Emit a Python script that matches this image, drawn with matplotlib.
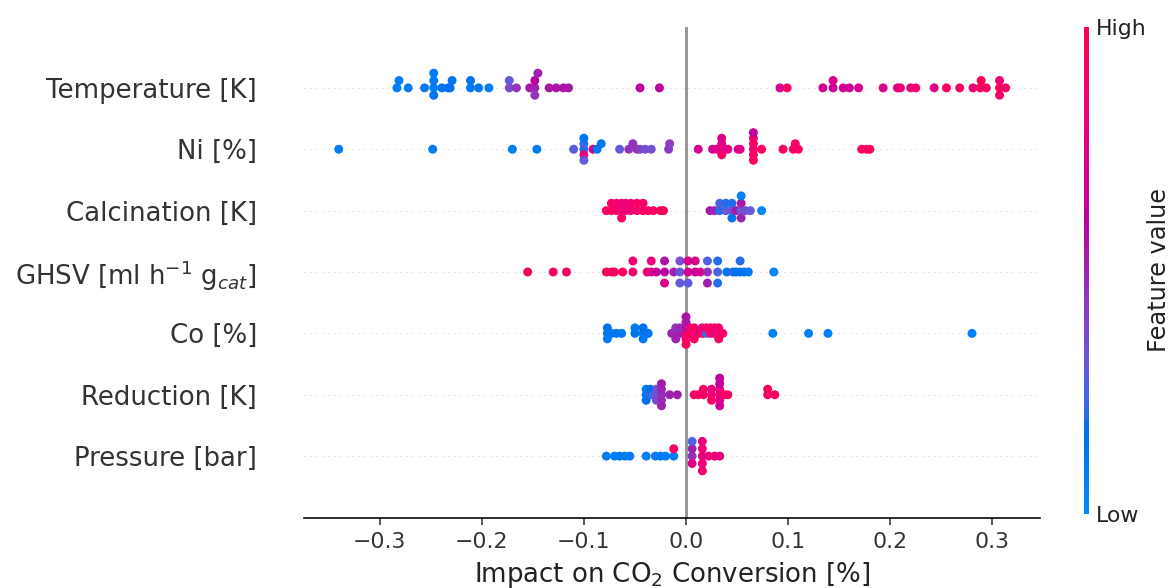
import numpy as np
import matplotlib
matplotlib.use("Agg")
import matplotlib.pyplot as plt
from matplotlib.colors import LinearSegmentedColormap

# ---------------- data ----------------
features = ["Temperature [K]", "Ni [%]", "Calcination [K]",
            r"GHSV [ml h$^{-1}$ g$_{cat}$]", "Co [%]", "Reduction [K]", "Pressure [bar]"]

temp_shap = [-0.283, -0.281, -0.272, -0.256, -0.247, -0.247, -0.247, -0.247, -0.239, -0.233,
             -0.231, -0.229, -0.211, -0.211, -0.203, -0.193, -0.173, -0.173, -0.166, -0.153,
             -0.148, -0.148, -0.148, -0.145, -0.134, -0.127, -0.120, -0.115, -0.045, -0.026,
             0.092, 0.099, 0.134, 0.144, 0.144, 0.154, 0.160, 0.169, 0.193, 0.207,
             0.210, 0.220, 0.225, 0.243, 0.255, 0.268, 0.281, 0.288, 0.289, 0.294,
             0.307, 0.307, 0.307, 0.313]
temp_val = [0.10, 0.08, 0.10, 0.12, 0.10, 0.12, 0.15, 0.10, 0.15, 0.15,
            0.18, 0.15, 0.12, 0.15, 0.12, 0.08, 0.38, 0.30, 0.45, 0.55,
            0.50, 0.60, 0.45, 0.50, 0.55, 0.55, 0.55, 0.55, 0.62, 0.62,
            0.72, 0.92, 0.70, 0.66, 0.72, 0.68, 0.65, 0.70, 0.72, 0.78,
            0.82, 0.85, 0.85, 0.75, 0.92, 0.92, 0.85, 0.95, 0.97, 0.90,
            0.95, 0.85, 0.90, 0.90]

ni_shap = [-0.340, -0.248, -0.170, -0.146, -0.110, -0.100, -0.100, -0.100, -0.100, -0.100,
           -0.091, -0.087, -0.083, -0.065, -0.056, -0.052, -0.048, -0.045, -0.040, -0.034,
           -0.017, -0.016, 0.012, 0.026, 0.030, 0.035, 0.035, 0.035, 0.035, 0.041,
           0.051, 0.053, 0.066, 0.066, 0.066, 0.066, 0.066, 0.066, 0.074, 0.095,
           0.105, 0.107, 0.110, 0.172, 0.177, 0.180]
ni_val = [0.10, 0.10, 0.08, 0.10, 0.28, 0.20, 0.22, 0.78, 0.15, 0.30,
          0.72, 0.15, 0.15, 0.30, 0.45, 0.45, 0.45, 0.40, 0.35, 0.35,
          0.42, 0.42, 0.70, 0.70, 0.72, 0.75, 0.78, 0.90, 0.72, 0.75,
          0.62, 0.75, 0.85, 0.90, 0.92, 0.88, 0.95, 0.62, 0.92, 0.92,
          0.92, 0.92, 0.92, 0.92, 0.92, 0.93]

calc_shap = [-0.078, -0.073, -0.073, -0.068, -0.068, -0.063, -0.063, -0.063, -0.059, -0.059,
             -0.054, -0.054, -0.048, -0.048, -0.042, -0.042, -0.037, -0.032, -0.025, -0.022,
             0.0235, 0.028, 0.033, 0.033, 0.039, 0.039, 0.045, 0.045, 0.045, 0.049,
             0.054, 0.054, 0.054, 0.054, 0.058, 0.063, 0.074]
calc_val = [0.92, 0.95, 0.90, 0.92, 0.88, 0.85, 0.82, 0.90, 0.85, 0.80,
            0.82, 0.85, 0.85, 0.90, 0.92, 0.88, 0.92, 0.92, 0.95, 0.95,
            0.55, 0.50, 0.20, 0.25, 0.30, 0.20, 0.35, 0.20, 0.15, 0.55,
            0.30, 0.55, 0.50, 0.08, 0.35, 0.30, 0.05]

ghsv_shap = [-0.155, -0.130, -0.117, -0.078, -0.073, -0.070, -0.062, -0.052, -0.052, -0.038,
             -0.034, -0.034, -0.029, -0.021, -0.021, -0.021, -0.012, -0.006, -0.006, -0.006,
             0.002, 0.002, 0.002, 0.009, 0.009, 0.014, 0.021, 0.021, 0.021, 0.031,
             0.031, 0.031, 0.040, 0.046, 0.049, 0.053, 0.053, 0.057, 0.061, 0.086]
ghsv_val = [0.95, 0.92, 0.92, 0.95, 0.95, 0.92, 0.92, 0.88, 0.85, 0.78,
            0.78, 0.82, 0.62, 0.60, 0.55, 0.75, 0.50, 0.30, 0.35, 0.30,
            0.70, 0.70, 0.30, 0.70, 0.72, 0.72, 0.45, 0.25, 0.50, 0.25,
            0.20, 0.20, 0.15, 0.20, 0.18, 0.18, 0.20, 0.15, 0.12, 0.05]

co_shap = [-0.077, -0.077, -0.077, -0.073, -0.068, -0.063, -0.050, -0.050, -0.042, -0.042,
           -0.042, -0.037, -0.014, -0.010, -0.010, -0.010, -0.006, -0.006, 0.000, 0.000,
           0.000, 0.000, 0.000, 0.000, 0.004, 0.004, 0.008, 0.008, 0.008, 0.012,
           0.016, 0.016, 0.020, 0.020, 0.024, 0.024, 0.028, 0.028, 0.032, 0.032,
           0.032, 0.036, 0.085, 0.120, 0.139, 0.280]
co_val = [0.12, 0.15, 0.10, 0.15, 0.15, 0.15, 0.15, 0.12, 0.15, 0.18,
          0.12, 0.15, 0.50, 0.50, 0.45, 0.50, 0.52, 0.48, 0.90, 0.55,
          0.85, 0.55, 0.95, 0.55, 0.92, 0.88, 0.85, 0.90, 0.92, 0.85,
          0.90, 0.80, 0.25, 0.85, 0.88, 0.92, 0.80, 0.88, 0.90, 0.85,
          0.92, 0.90, 0.08, 0.08, 0.08, 0.08]

red_shap = [-0.039, -0.039, -0.039, -0.035, -0.035, -0.032, -0.029, -0.029, -0.029, -0.024,
            -0.024, -0.024, -0.024, -0.024, -0.016, -0.0085, 0.008, 0.012, 0.017, 0.017,
            0.025, 0.025, 0.025, 0.033, 0.033, 0.033, 0.033, 0.033, 0.033, 0.038,
            0.041, 0.080, 0.080, 0.087]
red_val = [0.15, 0.12, 0.18, 0.20, 0.18, 0.25, 0.30, 0.33, 0.38, 0.45,
           0.50, 0.48, 0.52, 0.50, 0.50, 0.52, 0.85, 0.92, 0.92, 0.90,
           0.85, 0.80, 0.92, 0.85, 0.80, 0.75, 0.65, 0.68, 0.62, 0.92,
           0.92, 0.92, 0.95, 0.92]

pres_shap = [-0.078, -0.070, -0.065, -0.060, -0.055, -0.039, -0.030, -0.025, -0.020, -0.012,
             -0.012, 0.006, 0.006, 0.006, 0.006, 0.016, 0.016, 0.016, 0.016, 0.016,
             0.022, 0.028, 0.033]
pres_val = [0.10, 0.10, 0.10, 0.10, 0.10, 0.10, 0.10, 0.10, 0.10, 0.10,
            0.92, 0.45, 0.50, 0.75, 0.25, 0.80, 0.85, 0.82, 0.78, 0.85,
            0.80, 0.82, 0.80]

shap_rows = [temp_shap, ni_shap, calc_shap, ghsv_shap, co_shap, red_shap, pres_shap]
val_rows = [temp_val, ni_val, calc_val, ghsv_val, co_val, red_val, pres_val]

xticks = [-0.3, -0.2, -0.1, 0.0, 0.1, 0.2, 0.3]


# ---------------- shap red_blue colormap (LCH interpolation) ----------------
def lch2rgb(L, C, h):
    a = C * np.cos(h)
    b = C * np.sin(h)
    fy = (L + 16.0) / 116.0
    fx = a / 500.0 + fy
    fz = fy - b / 200.0
    fz = max(fz, 0.0)
    def finv(t):
        return t ** 3 if t > 0.2068966 else (t - 16.0 / 116.0) / 7.787
    X = 0.95047 * finv(fx)
    Y = 1.0 * finv(fy)
    Z = 1.08883 * finv(fz)
    M = np.array([[3.24048134, -1.53715152, -0.49853633],
                  [-0.96925495, 1.87599, 0.04155593],
                  [0.05564664, -0.20404134, 1.05731107]])
    rgb = M @ np.array([X, Y, Z])
    rgb = np.where(rgb > 0.0031308, 1.055 * np.power(np.clip(rgb, 1e-12, None), 1 / 2.4) - 0.055,
                   12.92 * rgb)
    return np.clip(rgb, 0, 1)


blue_lch = [54., 70., 4.6588]
l_mid = 40.
red_lch = [54., 90., 0.35470565 + 2 * np.pi]
nsteps = 100
l_vals = list(np.linspace(blue_lch[0], l_mid, nsteps // 2)) + list(np.linspace(l_mid, red_lch[0], nsteps // 2))
c_vals = np.linspace(blue_lch[1], red_lch[1], nsteps)
h_vals = np.linspace(blue_lch[2], red_lch[2], nsteps)
cols = [lch2rgb(l, c, h) for l, c, h in zip(l_vals, c_vals, h_vals)]
red_blue = LinearSegmentedColormap.from_list("red_blue", list(zip(np.linspace(0, 1, nsteps), cols)))


def beeswarm_offsets(vals, row_height=0.4, nbins=100):
    v = np.asarray(vals, dtype=float)
    quant = np.round(nbins * (v - v.min()) / (v.max() - v.min() + 1e-8))
    inds = np.argsort(quant, kind="stable")
    layer = 0
    last_bin = -1
    ys = np.zeros(len(v))
    for ind in inds:
        if quant[ind] != last_bin:
            layer = 0
        ys[ind] = np.ceil(layer / 2) * ((layer % 2) * 2 - 1)
        layer += 1
        last_bin = quant[ind]
    ys *= 0.9 * (row_height / np.max(ys + 1))
    return ys


# ---------------- figure ----------------
W, H, DPI = 1171, 588, 144
fig = plt.figure(figsize=(W / DPI, H / DPI), dpi=DPI)
ax = fig.add_axes([304 / W, 1 - 517.5 / H, (1040 - 304) / W, (517.5 - 26.5) / H])

n = len(features)
ax.axvline(x=0, color="#999999", zorder=-1)
sc = None
for i, (sv, fv) in enumerate(zip(shap_rows, val_rows)):
    pos = n - 1 - i
    ax.axhline(y=pos, color="#cccccc", lw=0.5, dashes=(1, 5), zorder=-1)
    ys = beeswarm_offsets(sv)
    sc = ax.scatter(sv, pos + ys, c=fv, cmap=red_blue, vmin=0, vmax=1,
                    s=20, alpha=1, linewidth=0, zorder=3)

ax.set_xlim(-0.374, 0.3466)
ax.set_ylim(-1, n)
ax.set_yticks(range(n))
ax.set_yticklabels(features[::-1], fontsize=13)
ax.set_xticks(xticks)
ax.set_xticklabels([f"{t:.1f}".replace("-", "\u2212") for t in xticks])
ax.tick_params(axis="y", length=0, pad=23.5)
ax.tick_params(axis="x", labelsize=11)
ax.tick_params(color="#333333", labelcolor="#333333")
for s in ["top", "right", "left"]:
    ax.spines[s].set_visible(False)
ax.set_xlabel(r"Impact on CO$_2$ Conversion [%]", fontsize=13, color="#222222")

cax = fig.add_axes([1084 / W, 1 - 514 / H, 5 / W, (514 - 27) / H])
cb = fig.colorbar(sc, cax=cax, ticks=[0, 1])
cb.set_ticklabels(["Low", "High"])
cb.set_label("Feature value", size=12, labelpad=0, color="#222222")
cb.ax.tick_params(labelsize=11, length=0, labelcolor="#222222")
cb.outline.set_visible(False)

fig.savefig("out.png", dpi=DPI)
